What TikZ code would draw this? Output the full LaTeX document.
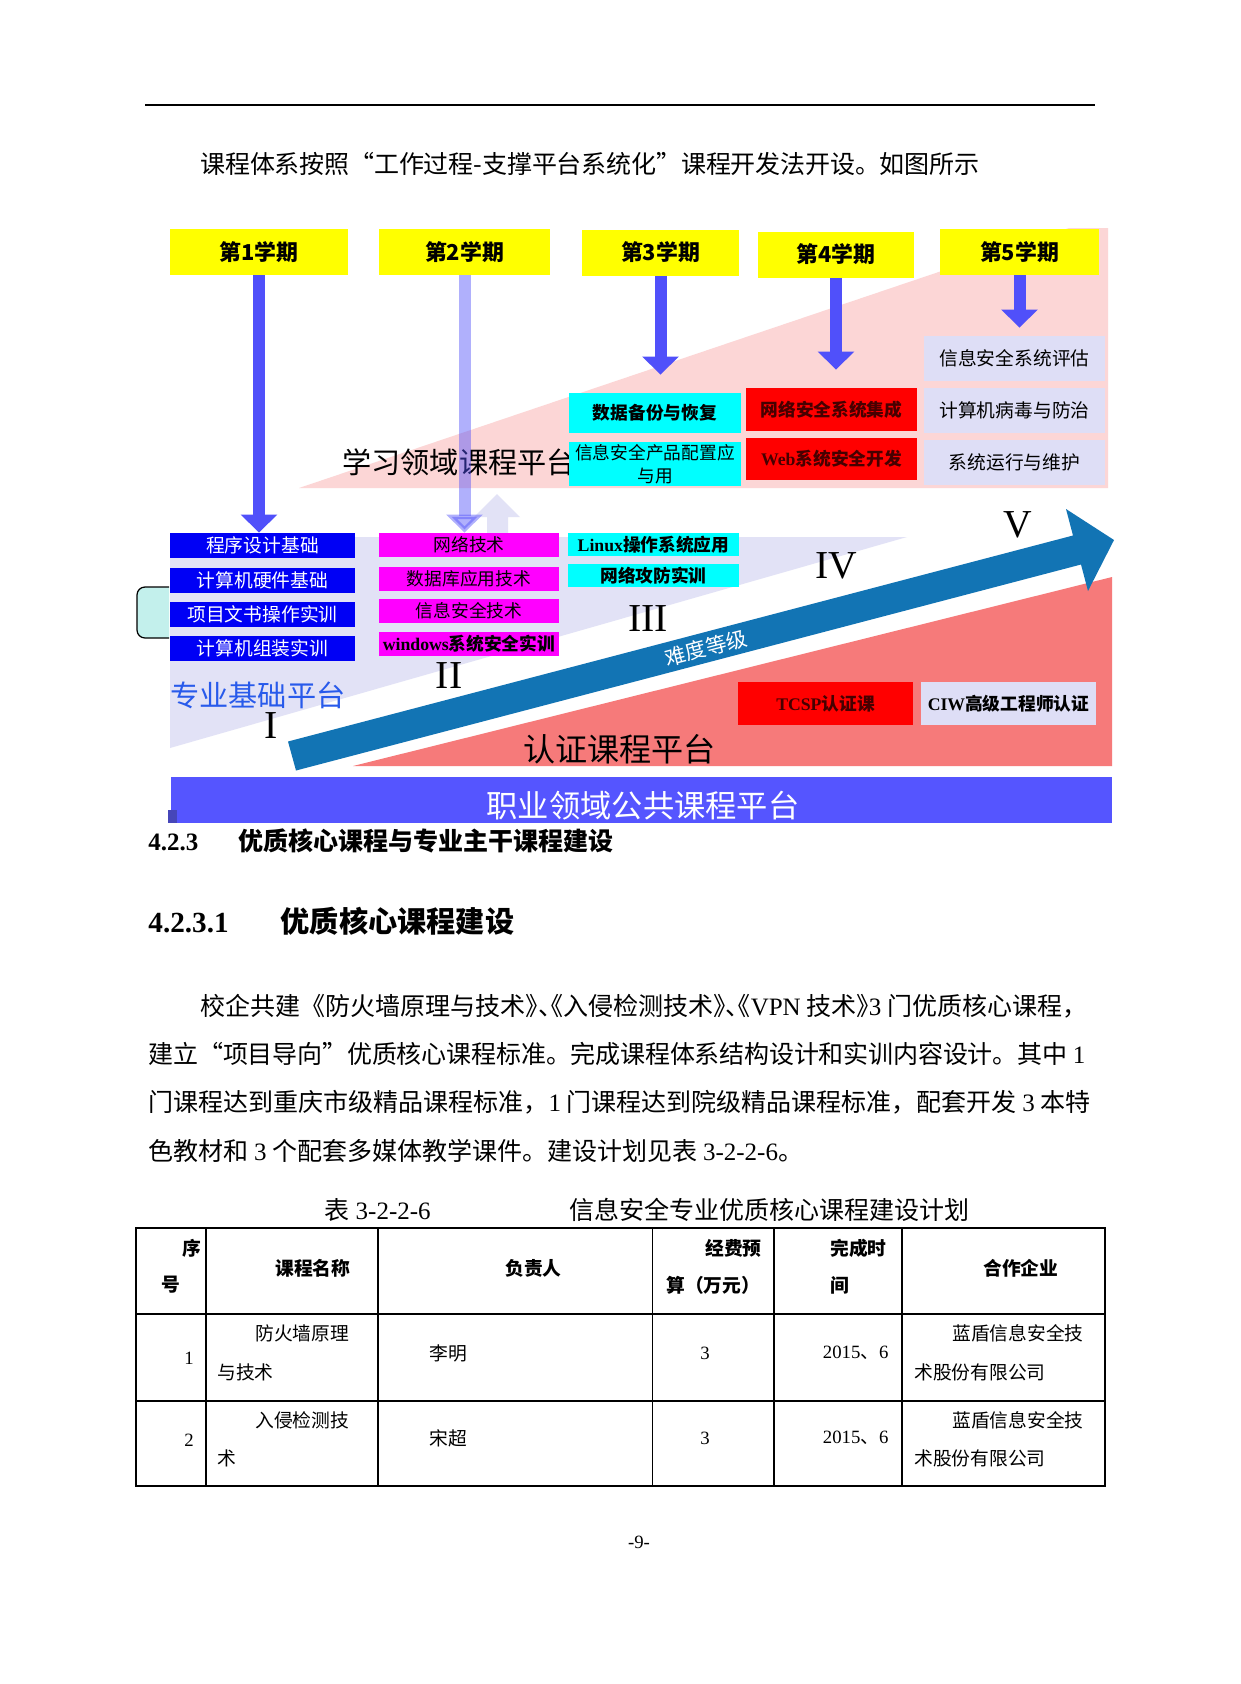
\documentclass[tikz,border=0pt]{standalone}
\usepackage{fontspec}
\setmainfont{Liberation Serif}
\newfontfamily\cjk{Noto Sans CJK SC}
\newfontfamily\cjkhalt[RawFeature=+halt]{Noto Sans CJK SC}
\usetikzlibrary{arrows.meta}
\XeTeXlinebreaklocale "zh"
\XeTeXlinebreakskip=0pt plus 2pt minus 1.5pt
\newcommand{\pxu}{0.4797pt}
\newcommand{\setfs}[2]{\fontsize{#1}{#2}\selectfont}
\newcommand{\lat}[1]{{\rmfamily #1}}
\newcommand{\hp}[1]{{\cjkhalt #1}}
\definecolor{semyellow}{RGB}{255,255,0}
\definecolor{baseblue}{RGB}{0,0,245}
\definecolor{netmag}{RGB}{255,0,255}
\definecolor{cyanfill}{RGB}{0,255,255}
\definecolor{redfill}{RGB}{255,0,0}
\definecolor{redtext}{RGB}{70,0,0}
\definecolor{lavfill}{RGB}{222,222,246}
\definecolor{semarrowc}{RGB}{80,80,250}
\definecolor{pinktri}{RGB}{252,214,214}
\definecolor{lavtri}{RGB}{226,226,246}
\definecolor{salmontri}{RGB}{246,122,122}
\definecolor{levelblue}{RGB}{18,116,180}
\definecolor{pubblue}{RGB}{85,85,255}
\definecolor{bracketcyan}{RGB}{195,240,236}
\definecolor{basetext}{RGB}{40,90,235}

\begin{document}
\begin{tikzpicture}[x=\pxu, y=-\pxu, >=Stealth,
  semester/.style={fill=semyellow, inner sep=0pt, minimum width=#1*\pxu, minimum height=46*\pxu, font=\cjk\bfseries\setfs{10.5}{12}},
  course/.style={inner sep=0pt, font=\cjk\setfs{8.5}{10}},
  basebox/.style={course, fill=baseblue, text=white, minimum width=185*\pxu, minimum height=25*\pxu, font=\cjk\setfs{9}{11}},
  netbox/.style={course, fill=netmag, minimum width=180*\pxu, minimum height=24*\pxu},
  linbox/.style={course, fill=cyanfill, minimum width=171*\pxu, minimum height=23*\pxu, font=\cjk\bfseries\setfs{8.5}{10}},
  upbox/.style={course, fill=cyanfill, minimum width=172*\pxu},
  secbox/.style={course, fill=redfill, text=redtext, minimum width=171*\pxu, font=\cjk\bfseries\setfs{8.5}{10}},
  evalbox/.style={course, fill=lavfill, minimum width=181*\pxu, minimum height=45*\pxu, font=\cjk\setfs{9}{11}},
  certbox/.style={course, minimum width=175*\pxu, minimum height=43*\pxu, font=\cjk\bfseries\setfs{8.5}{10}},
  semarrow/.style={draw=semarrowc, line width=12*\pxu, -{Triangle[width=17pt, length=8.6pt]}},
  numeral/.style={inner sep=0pt, font=\setfs{19}{21}},
  platform/.style={anchor=west, inner sep=0pt},
  bodyline/.style={anchor=west, inner sep=0pt, align=justify, font=\cjk\setfs{12}{14}},
  cell/.style={inner sep=0pt, font=\cjk\setfs{9}{11}}]
  % Page
  \fill[white] (0,0) rectangle (1241,1684);
  \useasboundingbox (0,0) rectangle (1241,1684);
  % Header rule and lead-in
  \draw[line width=1pt] (145,105) -- (1095,105);
  \node[bodyline, text width=373.7pt] (lead) at (200,164) {\parfillskip=0pt 课程体系按照“工作过程-支撑平台系统化”课程开发法开设。如图所示};

  % Platform backgrounds
  \fill[pinktri] (299,488) -- (1069,228) -- (1108,228) -- (1108,488) -- cycle;
  \fill[lavtri] (170,537) -- (907,537) -- (170,748) -- cycle;
  \fill[salmontri] (353,766) -- (1112,577) -- (1112,766) -- cycle;
  \fill[lavtri] (487,533) -- (487,517) -- (474,517) -- (497,494) -- (520,517) -- (508,517) -- (508,533) -- cycle;
  \node[platform, font=\cjk\setfs{14}{16}] (learnplat) at (342,462) {学习领域课程平台};

  % Semesters
  \node[semester=178] (sem1) at (259,252) {第1学期};
  \node[semester=171] (sem2) at (464.5,252) {第2学期};
  \node[semester=157] (sem3) at (660.5,252.5) {第3学期};
  \node[semester=156] (sem4) at (836,254.5) {第4学期};
  \node[semester=159] (sem5) at (1019.5,252) {第5学期};

  % Courses
  \draw[fill=bracketcyan, rounded corners=8*\pxu, line width=0.6pt] (169,587) -- (137,587) -- (137,638) -- (169,638);
  \node[basebox] (prog) at (262.5,545.5) {程序设计基础};
  \node[basebox] (hw) at (262.5,580) {计算机硬件基础};
  \node[basebox] (doc) at (262.5,614) {项目文书操作实训};
  \node[basebox] (asm) at (262.5,648.5) {计算机组装实训};
  \node[netbox] (net) at (469,545) {网络技术};
  \node[netbox] (db) at (469,578.5) {数据库应用技术};
  \node[netbox] (infosec) at (469,611) {信息安全技术};
  \node[netbox] (winsec) at (469,643.5) {\lat{\bfseries windows}\bfseries 系统安全实训};
  \node[linbox] (linux) at (653.5,544.5) {\lat{Linux}操作系统应用};
  \node[linbox] (attack) at (653.5,575.5) {网络攻防实训};
  \node[upbox, minimum height=40*\pxu, font=\cjk\bfseries\setfs{8.5}{10}] (backup) at (655,413) {数据备份与恢复};
  \node[upbox, minimum height=44*\pxu, align=center] (product) at (655,464) {信息安全产品配置应\\[1pt]与用};
  \node[secbox, minimum height=43*\pxu] (integ) at (831.5,409.5) {网络安全系统集成};
  \node[secbox, minimum height=42*\pxu] (websec) at (831.5,459) {\lat{Web}系统安全开发};
  \node[evalbox] (eval) at (1014.5,358.5) {信息安全系统评估};
  \node[evalbox] (virus) at (1014.5,410.5) {计算机病毒与防治};
  \node[evalbox] (maint) at (1014.5,462.5) {系统运行与维护};
  \node[certbox, fill=redfill, text=redtext] (tcsp) at (825.5,703.5) {\lat{TCSP}认证课};
  \node[certbox, fill=lavfill] (ciw) at (1008.5,703.5) {\lat{CIW}高级工程师认证};

  % Semester arrows
  \draw[semarrow] (sem1.south) -- (sem1.south |- prog.north);
  \draw[semarrow, opacity=0.45] (sem2.south) -- (sem2.south |- net.north);
  \draw[semarrow, shorten >=18*\pxu] (sem3.south) -- (sem3.south |- backup.north);
  \draw[semarrow, shorten >=18*\pxu] (sem4.south) -- (sem4.south |- integ.north);
  \draw[semarrow, shorten >=8*\pxu] (sem5.south) -- (sem5.south |- eval.north);

  % Difficulty arrow
  \fill[levelblue] (288,741.5) -- (1073,535.5) -- (1066,509) -- (1114,540) -- (1088,591) -- (1081,564.5) -- (296,770.5) -- cycle;
  \node[rotate=14.7, text=white, inner sep=0pt, font=\cjk\setfs{10}{12}] (level) at (706,648) {难度等级};
  \node[numeral] (rI) at (271,726) {I};
  \node[numeral] (rII) at (449,676) {II};
  \node[numeral] (rIII) at (648,619) {III};
  \node[numeral] (rIV) at (836,566) {IV};
  \node[numeral] (rV) at (1018,525) {V};

  % Platform labels
  \node[platform, text=basetext, font=\cjk\setfs{14}{16}] (baseplat) at (170,695) {专业基础平台};
  \node[platform, font=\cjk\setfs{15.4}{17}] (certplat) at (523,749) {认证课程平台};
  \node[fill=pubblue, inner sep=0pt, minimum width=941*\pxu, minimum height=46*\pxu] (pubplat) at (641.5,800) {};
  \fill[blue!45!gray] (168,810) rectangle (177,823);
  \node[text=white, inner sep=0pt, font=\cjk\setfs{15}{17}] (pubtxt) at (643,806) {职业领域公共课程平台};

  % Sections and paragraph
  \node[platform, font=\bfseries\setfs{12}{14}] (sec) at (148,841) {4.2.3\hspace{19pt}{\cjk 优质核心课程与专业主干课程建设}};
  \node[platform, font=\bfseries\setfs{14}{16}] (subsec) at (148,921) {4.2.3.1\hspace{25pt}{\cjk 优质核心课程建设}};
  \node[bodyline, text width=426.9pt] (parA) at (200,1006) {\parfillskip=0pt 校企共建《防火墙原理与技术\hp{》、《}入侵检测技术\hp{》、《}\lat{VPN} 技术\hp{》}\lat{3} 门优质核心课程，};
  \node[bodyline, text width=449.5pt] (parB) at (148,1054) {\parfillskip=0pt 建立“项目导向”优质核心课程标准。完成课程体系结构设计和实训内容设计。其中 \lat{1}};
  \node[bodyline, text width=451.9pt] (parC) at (148,1102) {\parfillskip=0pt 门课程达到重庆市级精品课程标准，\lat{1} 门课程达到院级精品课程标准，配套开发 \lat{3} 本特};
  \node[platform, font=\cjk\setfs{12}{14}] (parD) at (148,1151) {色教材和 \lat{3} 个配套多媒体教学课件。建设计划见表 \lat{3-2-2-6}。};

  % Table
  \node[platform, font=\setfs{12}{14}] (tabcap) at (324,1210) {{\cjk 表} 3-2-2-6};
  \node[platform, font=\cjk\setfs{12}{14}] (tabtitle) at (569,1210) {信息安全专业优质核心课程建设计划};
  \draw[line width=0.7pt] (136,1228) rectangle (1105,1486);
  \draw[line width=0.7pt] (136,1314) -- (1105,1314) (136,1401) -- (1105,1401);
  \foreach \cx in {206,378,652.5,774,902}
    \draw[line width=0.7pt] (\cx,1228) -- (\cx,1486);
  \node[cell, font=\cjk\bfseries\setfs{9}{11}] (hno) at (192,1248) {序};
  \node[cell, font=\cjk\bfseries\setfs{9}{11}] (hnoB) at (171,1285) {号};
  \node[cell, anchor=west, font=\cjk\bfseries\setfs{9}{11}] (hname) at (275,1268) {课程名称};
  \node[cell, anchor=west, font=\cjk\bfseries\setfs{9}{11}] (hlead) at (505,1268) {负责人};
  \node[cell, anchor=west, font=\cjk\bfseries\setfs{9}{11}] (hcost) at (705,1248) {经费预};
  \node[cell, anchor=west, font=\cjk\bfseries\setfs{9}{11}] (hcostB) at (666,1285) {算（万元）};
  \node[cell, anchor=west, font=\cjk\bfseries\setfs{9}{11}] (hdate) at (830,1248) {完成时};
  \node[cell, anchor=west, font=\cjk\bfseries\setfs{9}{11}] (hdateB) at (830,1285) {间};
  \node[cell, anchor=west, font=\cjk\bfseries\setfs{9}{11}] (hfirm) at (983,1268) {合作企业};
  \node[cell, font=\setfs{9}{11}] (noA) at (189,1358) {1};
  \node[cell, anchor=west] (nameA) at (255,1333) {防火墙原理};
  \node[cell, anchor=west] (nameAB) at (217,1372) {与技术};
  \node[cell, anchor=west] (leadA) at (429,1353) {李明};
  \node[cell, font=\setfs{9}{11}] (costA) at (705,1353) {3};
  \node[cell, anchor=east, font=\setfs{9}{11}] (dateA) at (889,1353) {2015{\cjk 、}6};
  \node[cell, anchor=west] (firmA) at (952,1333) {蓝盾信息安全技};
  \node[cell, anchor=west] (firmAB) at (914,1372) {术股份有限公司};
  \node[cell, font=\setfs{9}{11}] (noB) at (189,1440) {2};
  \node[cell, anchor=west] (nameB) at (255,1420) {入侵检测技};
  \node[cell, anchor=west] (nameBB) at (217,1458) {术};
  \node[cell, anchor=west] (leadB) at (429,1438) {宋超};
  \node[cell, font=\setfs{9}{11}] (costB) at (705,1438) {3};
  \node[cell, anchor=east, font=\setfs{9}{11}] (dateB) at (889,1438) {2015{\cjk 、}6};
  \node[cell, anchor=west] (firmB) at (952,1420) {蓝盾信息安全技};
  \node[cell, anchor=west] (firmBB) at (914,1458) {术股份有限公司};

  % Page number
  \node[font=\setfs{9}{11}, inner sep=0pt] (pageno) at (639,1542) {-9-};
\end{tikzpicture}
\end{document}
